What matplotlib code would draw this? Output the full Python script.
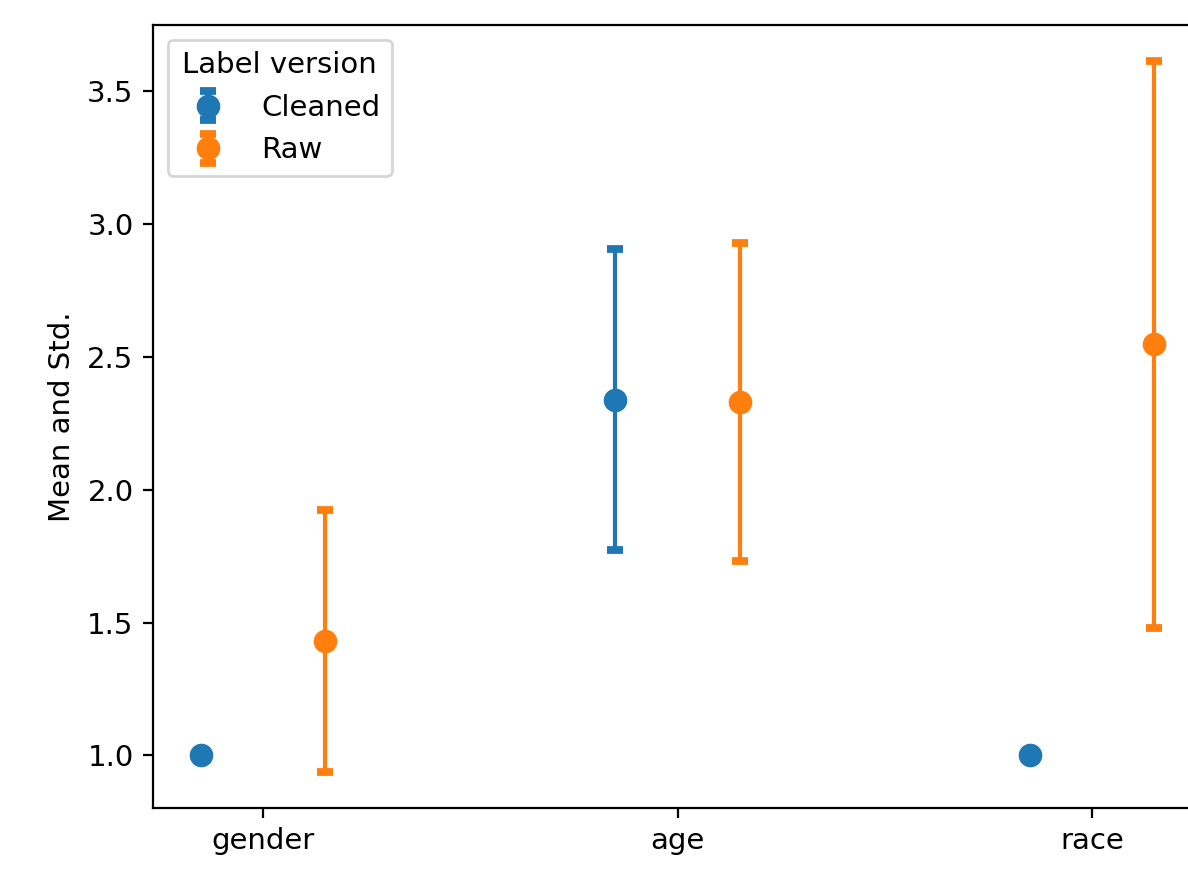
import numpy as np
import matplotlib.pyplot as plt

attributes = ["gender", "age", "race"]
versions = ["Cleaned", "Raw"]
means = {"Cleaned": [1.0, 2.338, 1.0], "Raw": [1.430, 2.330, 2.548]}
stds = {"Cleaned": [0.0, 0.566, 0.0], "Raw": [0.494, 0.600, 1.067]}
offsets = {"Cleaned": -0.15, "Raw": 0.15}
colors = {"Cleaned": "#1f77b4", "Raw": "#ff7f0e"}

plt.rcParams["font.size"] = 10.5

fig = plt.figure(figsize=(5.94, 4.425), dpi=200)
ax = fig.add_axes([0.1288, 0.087, 0.8830, 0.8848])

x = np.arange(len(attributes))
for v in versions:
    ax.errorbar(x + offsets[v], means[v], yerr=stds[v], fmt="o", color=colors[v],
                markersize=7.5, capsize=3, capthick=2.8, elinewidth=1.5, label=v)

ax.set_xticks(x)
ax.set_xticklabels(attributes)
ax.set_ylabel("Mean and Std.")
ax.legend(title="Label version", loc="upper left")

fig.savefig("out.png", dpi=200)
